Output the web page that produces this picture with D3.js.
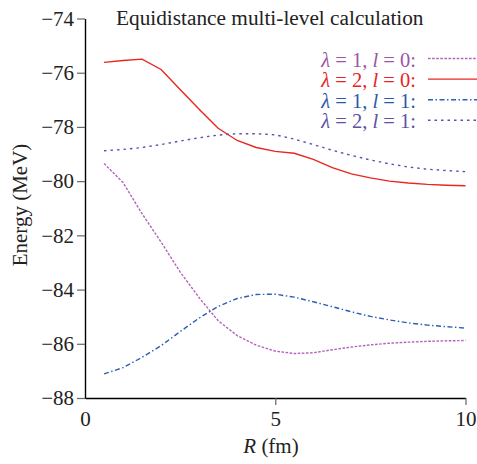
<!DOCTYPE html>
<html>
<head>
<meta charset="utf-8">
<script src="https://cdn.jsdelivr.net/npm/d3@7"></script>
<style>
  html, body { margin: 0; padding: 0; background: #fff; }
  svg { display: block; }
  text { font-family: "Liberation Serif", "Times New Roman", serif; }
</style>
</head>
<body>
<script>
// Distance R (fm) at which each level was computed
const R = [0.5, 1.0, 1.5, 2.0, 2.5, 3.0, 3.5, 4.0, 4.5, 5.0, 5.5, 6.0, 6.5, 7.0, 7.5, 8.0, 8.5, 9.0, 9.5, 10.0];

// Energies (MeV) for each (λ, l) level
const lam1_l0 = [-79.35, -80.05, -81.20, -82.25, -83.35, -84.30, -85.15, -85.70, -86.05, -86.27, -86.36, -86.33, -86.22, -86.12, -86.04, -85.98, -85.94, -85.91, -85.89, -85.88];
const lam2_l0 = [-75.62, -75.55, -75.50, -75.88, -76.62, -77.35, -78.05, -78.50, -78.76, -78.90, -78.97, -79.20, -79.50, -79.73, -79.88, -80.00, -80.07, -80.12, -80.15, -80.17];
const lam1_l1 = [-87.11, -86.88, -86.50, -86.07, -85.55, -85.05, -84.62, -84.33, -84.18, -84.17, -84.28, -84.45, -84.63, -84.82, -84.99, -85.12, -85.23, -85.31, -85.37, -85.42];
const lam2_l1 = [-78.88, -78.83, -78.76, -78.65, -78.52, -78.40, -78.30, -78.25, -78.25, -78.29, -78.45, -78.65, -78.86, -79.05, -79.22, -79.36, -79.48, -79.56, -79.61, -79.65];

const xTicks = [0, 5, 10];
const yTicks = [-88, -86, -84, -82, -80, -78, -76, -74];
const legendLambda = ["1", "2", "1", "2"];
const legendL = ["0", "0", "1", "1"];

const W = 477, H = 464;
const svg = d3.select("body").append("svg").attr("width", W).attr("height", H);

const x = d3.scaleLinear().domain([0, 10]).range([85, 465.5]);
const y = d3.scaleLinear().domain([-88, -74]).range([398, 18.5]);

const series = [
  { values: lam1_l0, line: "#b561c0", text: "#9c55a6", dash: "2.6,1.5" },
  { values: lam2_l0, line: "#e8261f", text: "#e8231f", dash: null },
  { values: lam1_l1, line: "#2d5fb2", text: "#2b59a8", dash: "5,2.5,1.5,2.5" },
  { values: lam2_l1, line: "#5b50aa", text: "#6150a2", dash: "2.5,4" }
];

const fmt = v => String(v).replace("-", "\u2212");

// Axes
const yAxis = d3.axisLeft(y).tickValues(yTicks).tickSize(8).tickSizeOuter(0).tickPadding(3).tickFormat(fmt);
const xAxis = d3.axisBottom(x).tickValues(xTicks).tickSize(7).tickSizeOuter(0).tickPadding(6).tickFormat(fmt);

const gy = svg.append("g").attr("transform", `translate(${x(0)},0)`).call(yAxis);
const gx = svg.append("g").attr("transform", `translate(0,${y(-88)})`).call(xAxis);

[gx, gy].forEach(g => {
  g.select(".domain").attr("stroke", "#000").attr("stroke-width", 1.4);
  g.selectAll(".tick line").attr("stroke", "#666").attr("stroke-width", 1.2);
  g.selectAll(".tick text").attr("fill", "#222").style("font-size", "21px")
    .style("font-family", "'Liberation Serif', serif");
});
gx.selectAll(".tick").filter(d => d === 0).select("line").remove();

// Curves
const line = d3.line().x((d, i) => x(R[i])).y(d => y(d));
series.forEach(s => {
  svg.append("path")
    .attr("d", line(s.values))
    .attr("fill", "none")
    .attr("stroke", s.line)
    .attr("stroke-width", 1.4)
    .attr("stroke-dasharray", s.dash);
});

// Title
svg.append("text").attr("x", 116).attr("y", 25).style("font-size", "21.3px").attr("fill", "#222")
  .text("Equidistance multi-level calculation");

// Axis titles
svg.append("text")
  .attr("transform", "translate(27,205) rotate(-90)")
  .attr("text-anchor", "middle").style("font-size", "21px").attr("fill", "#222")
  .text("Energy (MeV)");

const xl = svg.append("text").attr("x", 271).attr("y", 453).attr("text-anchor", "middle")
  .style("font-size", "21px").attr("fill", "#222");
xl.append("tspan").style("font-style", "italic").text("R");
xl.append("tspan").text(" (fm)");

// Legend
series.forEach((s, i) => {
  const by = 66.5 + i * 20.6;
  const t = svg.append("text").attr("x", 416).attr("y", by).attr("text-anchor", "end")
    .style("font-size", "20.5px").attr("fill", s.text);
  t.append("tspan").style("font-style", "italic").text("\u03bb");
  t.append("tspan").text(" = " + legendLambda[i] + ", ");
  t.append("tspan").style("font-style", "italic").text("l");
  t.append("tspan").text(" = " + legendL[i] + ":");
  svg.append("line")
    .attr("x1", 428).attr("x2", 477)
    .attr("y1", by - 8).attr("y2", by - 8)
    .attr("stroke", s.line).attr("stroke-width", 1.4)
    .attr("stroke-dasharray", s.dash);
});
</script>
</body>
</html>
